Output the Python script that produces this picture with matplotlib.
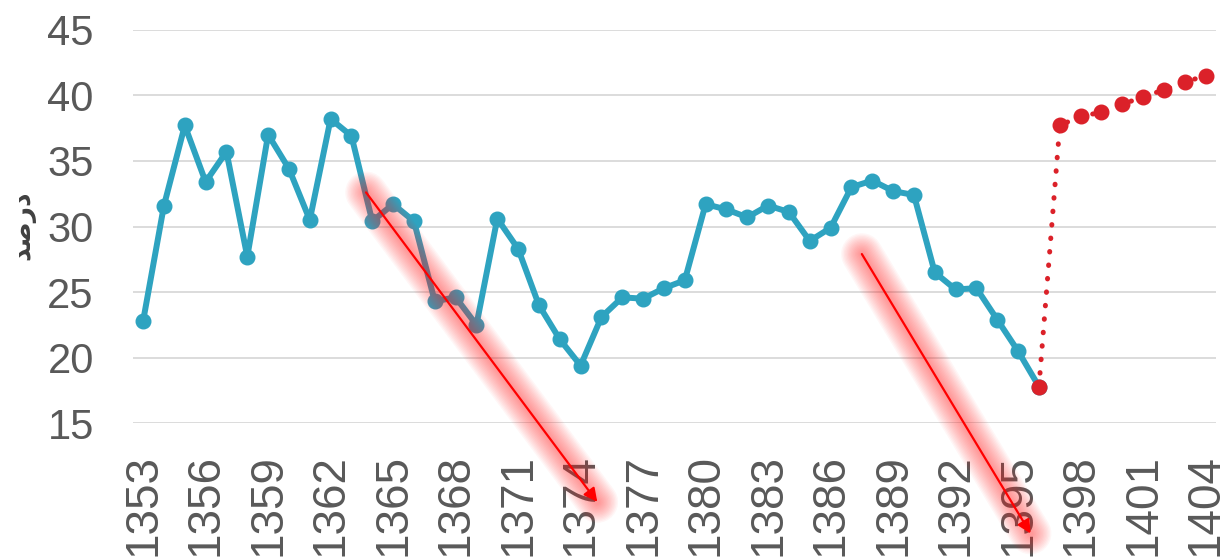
import numpy as np
import matplotlib.pyplot as plt

plt.rcParams['font.family'] = ['Liberation Sans', 'DejaVu Sans']

# Observed series, 1353-1396
hist_years = list(range(1353, 1397))
hist_values = [22.8, 31.6, 37.7, 33.4, 35.7, 27.7, 37.0, 34.4, 30.5, 38.2,
               36.9, 30.4, 31.7, 30.4, 24.3, 24.6, 22.5, 30.6, 28.3, 24.0,
               21.4, 19.4, 23.1, 24.6, 24.5, 25.3, 25.9, 31.7, 31.3, 30.7,
               31.6, 31.1, 28.9, 29.9, 33.0, 33.5, 32.7, 32.4, 26.5, 25.2,
               25.3, 22.9, 20.5, 17.8]

# Projection, 1396-1404
proj_years = list(range(1396, 1405))
proj_values = [17.8, 37.7, 38.4, 38.7, 39.3, 39.9, 40.4, 41.0, 41.5]

tick_years = list(range(1353, 1405, 3))
y_ticks = [15, 20, 25, 30, 35, 40, 45]

# decline arrows (start, end) in data units
trend_arrows = [((1363.7, 32.6), (1374.8, 9.0)),
                ((1387.5, 27.9), (1395.6, 6.6))]

blue = '#2ea3c0'
red = '#db2129'
grey = '#595959'


def glow_arrow(ax, start, end):
    # soft red halo under the arrow, built from stacked translucent strokes
    for lw in range(30, 3, -2):
        ax.plot([start[0], end[0]], [start[1], end[1]], color='#ff2020',
                lw=lw, alpha=0.04, solid_capstyle='round', clip_on=False, zorder=5)
    ax.annotate('', xy=end, xytext=start, annotation_clip=False, zorder=6,
                arrowprops=dict(arrowstyle='-|>', color='#ff0000', lw=1.6,
                                mutation_scale=20, shrinkA=0, shrinkB=0))


fig = plt.figure(figsize=(12.22, 5.57), dpi=100)
ax = fig.add_axes([0.1086, 0.24, 0.8865, 0.7067])

ax.plot(hist_years, hist_values, color=blue, lw=4.3, marker='o',
        markersize=10.5, zorder=3)
ax.plot(proj_years, proj_values, color=red, lw=3.6,
        linestyle=(0, (0.1, 2.6)), dash_capstyle='round',
        marker='o', markersize=10.5, zorder=4)

for start, end in trend_arrows:
    glow_arrow(ax, start, end)

ax.set_xlim(1352.5, 1404.5)
ax.set_ylim(15, 45)
ax.set_yticks(y_ticks)
ax.set_xticks(tick_years)
ax.set_xticklabels([str(y) for y in tick_years], rotation=90)
ax.tick_params(axis='y', length=0, pad=28, labelsize=30, labelcolor=grey)
ax.tick_params(axis='x', length=0, pad=22, labelsize=33, labelcolor=grey)
for lbl in ax.get_xticklabels():
    lbl.set_verticalalignment('top')

ax.grid(axis='y', color='#d9d9d9', lw=1.3)
ax.set_axisbelow(True)
for s in ax.spines.values():
    s.set_visible(False)

# "درصد" written with presentation forms so it joins correctly
fig.text(0.018, 0.595, '\uFEAA\uFEBB\uFEAD\uFEA9', rotation=90,
         fontsize=19, fontweight='bold', color='#404040',
         family=['DejaVu Sans'], ha='center', va='center')

plt.savefig('out.png', dpi=100)
plt.close(fig)
